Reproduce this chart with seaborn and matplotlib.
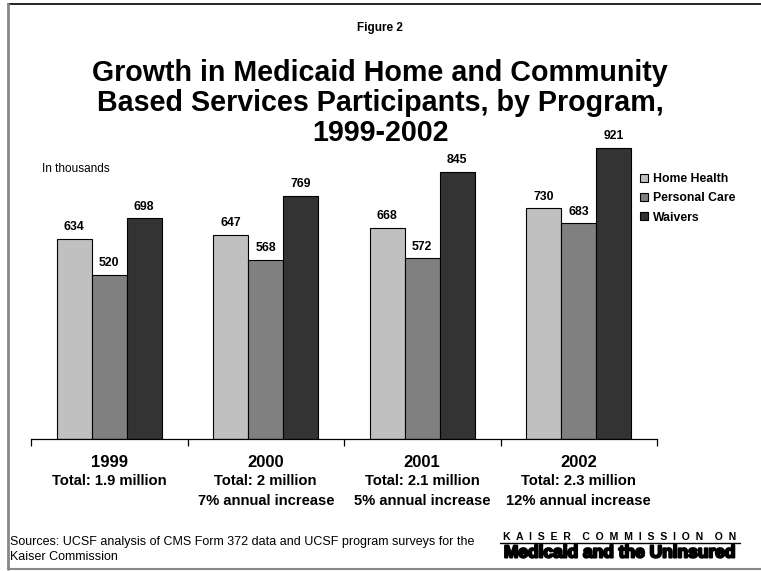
import matplotlib
matplotlib.use("Agg")
import matplotlib.pyplot as plt
import matplotlib.patheffects as pe
from matplotlib.lines import Line2D
import seaborn as sns
import pandas as pd

years = ["1999", "2000", "2001", "2002"]
totals = ["Total: 1.9 million", "Total: 2 million", "Total: 2.1 million", "Total: 2.3 million"]
increases = ["", "7% annual increase", "5% annual increase", "12% annual increase"]
programs = ["Home Health", "Personal Care", "Waivers"]
home_health = [634, 647, 668, 730]
personal_care = [520, 568, 572, 683]
waivers = [698, 769, 845, 921]
colors = ["#c0c0c0", "#808080", "#333333"]

rows = []
for i, y in enumerate(years):
    for p, vals in zip(programs, [home_health, personal_care, waivers]):
        rows.append({"year": y, "program": p, "value": vals[i]})
df = pd.DataFrame(rows)

sns.set_style("white")
plt.rcParams["font.family"] = ["Liberation Sans", "DejaVu Sans"]
plt.rcParams["text.color"] = "black"

W, H = 761, 571
fig = plt.figure(figsize=(W / 100, H / 100), dpi=100)

def fx(x):
    return x / W

def fy(y):
    return 1 - y / H

ax = fig.add_axes([fx(31), fy(439), fx(657) - fx(31), fy(123) - fy(439)])
sns.barplot(data=df, x="year", y="value", hue="program", hue_order=programs,
            palette=colors, width=0.67, edgecolor="black", linewidth=0.8,
            saturation=1, ax=ax, legend=True)
ax.set_ylim(0, 1000)
ax.set_xlim(-0.5, 3.5)
for c in ax.containers:
    ax.bar_label(c, fmt="%d", padding=4, fontsize=8.8, fontweight="bold", color="black")
for s in ["top", "right", "left"]:
    ax.spines[s].set_visible(False)
ax.spines["bottom"].set_color("black")
ax.spines["bottom"].set_linewidth(0.9)
ax.set_yticks([])
ax.set_xticks([-0.5, 0.5, 1.5, 2.5, 3.5])
ax.set_xticklabels([])
ax.tick_params(axis="x", length=5, width=0.9, color="black", direction="out", bottom=True)
ax.set_xlabel("")
ax.set_ylabel("")

# category labels
for i in range(4):
    cx = ax.transData.transform((i, 0))[0] / W
    fig.text(cx, fy(467), years[i], ha="center", va="baseline", fontsize=12, fontweight="bold")
    fig.text(cx, fy(485), totals[i], ha="center", va="baseline", fontsize=10.6, fontweight="bold")
    if increases[i]:
        fig.text(cx, fy(505), increases[i], ha="center", va="baseline", fontsize=10.6, fontweight="bold")

# legend
handles, labels = ax.get_legend_handles_labels()
ax.legend(handles, labels, loc="upper left", bbox_to_anchor=(fx(635), fy(168)),
          bbox_transform=fig.transFigure, frameon=False,
          prop={"weight": "bold", "size": 8.8}, handlelength=0.65, handleheight=0.65,
          handletextpad=0.45, labelspacing=0.6, borderaxespad=0)

# titles
fig.text(fx(380), fy(28), "Figure 2", ha="center", va="center", fontsize=8.5, fontweight="bold")
title_lines = ["Growth in Medicaid Home and Community",
               "Based Services Participants, by Program,",
               "1999-2002"]
for yy, t in zip([81, 111, 141], title_lines):
    fig.text(fx(380), fy(yy), t, ha="center", va="baseline", fontsize=20.6, fontweight="bold")

fig.text(fx(42), fy(169), "In thousands", ha="left", va="center", fontsize=8.5)

fig.text(fx(10), fy(542), "Sources: UCSF analysis of CMS Form 372 data and UCSF program surveys for the",
         ha="left", va="center", fontsize=9)
fig.text(fx(10), fy(557), "Kaiser Commission", ha="left", va="center", fontsize=9)

# logo
fig.text(fx(620), fy(537), "K  A  I  S  E  R    C  O  M  M  I  S  S  I  O  N    O  N", ha="center", va="center",
         fontsize=7.6, fontweight="bold")
fig.add_artist(Line2D([fx(500), fx(740)], [fy(543), fy(543)], color="black", lw=1))
fig.text(fx(620), fy(553), "Medicaid and the Uninsured", ha="center", va="center",
         fontsize=12.5, fontweight="bold",
         path_effects=[pe.withStroke(linewidth=1.5, foreground="black")])

# frame
fig.add_artist(Line2D([fx(8), fx(761)], [fy(4), fy(4)], color="black", lw=1.2))
fig.add_artist(Line2D([fx(8), fx(8)], [fy(4), fy(569)], color="#888888", lw=2))
fig.add_artist(Line2D([fx(8), fx(761)], [fy(569), fy(569)], color="#888888", lw=1.5))

fig.savefig("out.png", dpi=100)
